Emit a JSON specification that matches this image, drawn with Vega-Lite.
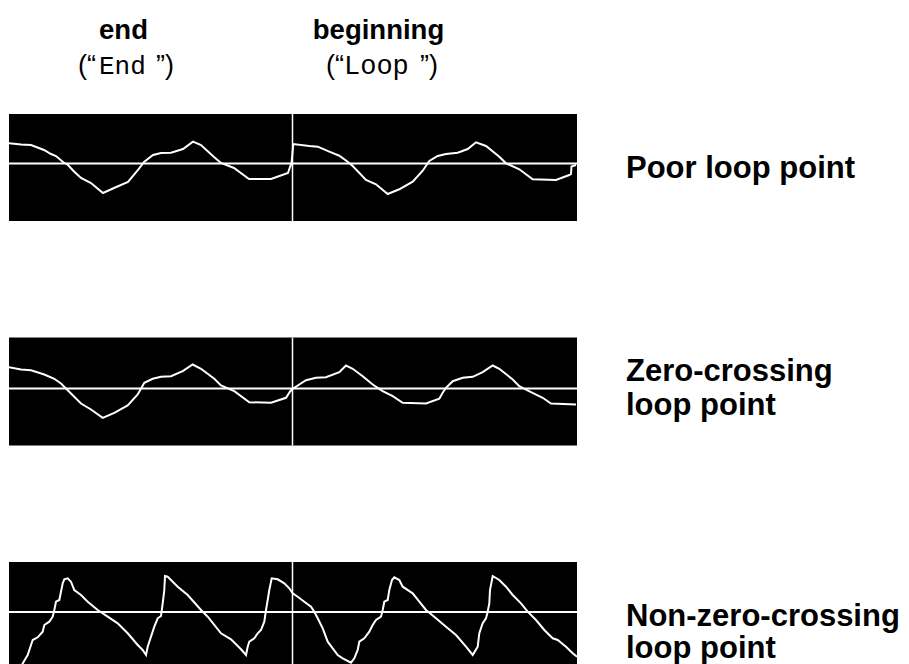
{
  "$schema": "https://vega.github.io/schema/vega-lite/v6.json",
  "background": "white",
  "padding": {"left": 8, "top": 0, "right": 0, "bottom": 0},
  "bounds": "flush",
  "spacing": 14,
  "config": {"view": {"stroke": null}, "axis": {"disable": true}},
  "datasets": {
    "wave": [
      {"panel": "poor", "t": 0, "v": 20.2}, {"panel": "poor", "t": 12, "v": 19}, {"panel": "poor", "t": 22, "v": 18.5}, {"panel": "poor", "t": 35, "v": 13.5}, {"panel": "poor", "t": 42, "v": 9.5}, {"panel": "poor", "t": 47, "v": 7.5}, {"panel": "poor", "t": 54, "v": 1.5}, {"panel": "poor", "t": 59, "v": -1.5}, {"panel": "poor", "t": 65, "v": -8}, {"panel": "poor", "t": 72, "v": -14.5}, {"panel": "poor", "t": 82, "v": -19.5}, {"panel": "poor", "t": 94, "v": -29.5}, {"panel": "poor", "t": 105, "v": -24.5}, {"panel": "poor", "t": 119, "v": -18.5}, {"panel": "poor", "t": 129, "v": -6.5}, {"panel": "poor", "t": 135, "v": 1.5}, {"panel": "poor", "t": 144, "v": 8.5}, {"panel": "poor", "t": 152, "v": 10.5}, {"panel": "poor", "t": 162, "v": 10.8}, {"panel": "poor", "t": 174, "v": 14.5}, {"panel": "poor", "t": 184, "v": 21.8}, {"panel": "poor", "t": 192, "v": 18.5}, {"panel": "poor", "t": 205, "v": 6.5}, {"panel": "poor", "t": 212, "v": 0.5}, {"panel": "poor", "t": 225, "v": -4.5}, {"panel": "poor", "t": 240, "v": -15.5}, {"panel": "poor", "t": 262, "v": -15.5}, {"panel": "poor", "t": 279, "v": -9.5}, {"panel": "poor", "t": 281, "v": -3.5}, {"panel": "poor", "t": 282.5, "v": 0},
      {"panel": "poor", "t": 284.3, "v": 19.5}, {"panel": "poor", "t": 300.3, "v": 17.5}, {"panel": "poor", "t": 308.7, "v": 16.8}, {"panel": "poor", "t": 320.3, "v": 11.8}, {"panel": "poor", "t": 330.3, "v": 7.8}, {"panel": "poor", "t": 338.7, "v": 1.8}, {"panel": "poor", "t": 343.7, "v": -2.5}, {"panel": "poor", "t": 357, "v": -16.5}, {"panel": "poor", "t": 367, "v": -20.8}, {"panel": "poor", "t": 378.7, "v": -30.5}, {"panel": "poor", "t": 390.3, "v": -25.8}, {"panel": "poor", "t": 403.7, "v": -18.2}, {"panel": "poor", "t": 413.7, "v": -7.2}, {"panel": "poor", "t": 420.3, "v": 2.5}, {"panel": "poor", "t": 428.7, "v": 7.5}, {"panel": "poor", "t": 437, "v": 9.5}, {"panel": "poor", "t": 448.7, "v": 10.8}, {"panel": "poor", "t": 458.7, "v": 14.5}, {"panel": "poor", "t": 467, "v": 21.2}, {"panel": "poor", "t": 477, "v": 17.5}, {"panel": "poor", "t": 490.3, "v": 6.8}, {"panel": "poor", "t": 497, "v": 0.2}, {"panel": "poor", "t": 510.3, "v": -5.8}, {"panel": "poor", "t": 523.7, "v": -15.8}, {"panel": "poor", "t": 547, "v": -16.5}, {"panel": "poor", "t": 560.3, "v": -11.5}, {"panel": "poor", "t": 562, "v": -10.5}, {"panel": "poor", "t": 562.5, "v": -3}, {"panel": "poor", "t": 567, "v": -1.5},

      {"panel": "zero", "t": 0, "v": 21.3}, {"panel": "zero", "t": 12, "v": 19}, {"panel": "zero", "t": 22, "v": 18.3}, {"panel": "zero", "t": 35.3, "v": 14}, {"panel": "zero", "t": 45.3, "v": 9.7}, {"panel": "zero", "t": 52, "v": 5}, {"panel": "zero", "t": 58.7, "v": -1.7}, {"panel": "zero", "t": 72, "v": -15}, {"panel": "zero", "t": 82, "v": -21}, {"panel": "zero", "t": 93.7, "v": -29.3}, {"panel": "zero", "t": 105.3, "v": -24.3}, {"panel": "zero", "t": 118.7, "v": -17}, {"panel": "zero", "t": 128.7, "v": -6}, {"panel": "zero", "t": 135.3, "v": 5.7}, {"panel": "zero", "t": 143.7, "v": 9.7}, {"panel": "zero", "t": 152, "v": 11.7}, {"panel": "zero", "t": 162, "v": 12.3}, {"panel": "zero", "t": 173.7, "v": 17.3}, {"panel": "zero", "t": 183.7, "v": 24}, {"panel": "zero", "t": 192, "v": 19.7}, {"panel": "zero", "t": 205.3, "v": 9.7}, {"panel": "zero", "t": 212, "v": 3}, {"panel": "zero", "t": 225.3, "v": -2.7}, {"panel": "zero", "t": 240.3, "v": -13.7}, {"panel": "zero", "t": 262, "v": -14.3}, {"panel": "zero", "t": 277, "v": -9.3}, {"panel": "zero", "t": 281.3, "v": -2.7}, {"panel": "zero", "t": 283.7, "v": -0.3},
      {"panel": "zero", "t": 290.3, "v": 4}, {"panel": "zero", "t": 297, "v": 8.3}, {"panel": "zero", "t": 307, "v": 10.7}, {"panel": "zero", "t": 317, "v": 11.3}, {"panel": "zero", "t": 330.3, "v": 16.3}, {"panel": "zero", "t": 337, "v": 23}, {"panel": "zero", "t": 343.7, "v": 19.7}, {"panel": "zero", "t": 353.7, "v": 12.3}, {"panel": "zero", "t": 363.7, "v": 4}, {"panel": "zero", "t": 373.7, "v": -2.7}, {"panel": "zero", "t": 383.7, "v": -7.7}, {"panel": "zero", "t": 393.7, "v": -14.3}, {"panel": "zero", "t": 417, "v": -15}, {"panel": "zero", "t": 430.3, "v": -10.3}, {"panel": "zero", "t": 433.7, "v": -4.3}, {"panel": "zero", "t": 437, "v": 0.7}, {"panel": "zero", "t": 443.7, "v": 7.3}, {"panel": "zero", "t": 453.7, "v": 10.7}, {"panel": "zero", "t": 463.7, "v": 11.7}, {"panel": "zero", "t": 473.7, "v": 16.3}, {"panel": "zero", "t": 483.7, "v": 23}, {"panel": "zero", "t": 490.3, "v": 19.7}, {"panel": "zero", "t": 503.7, "v": 9}, {"panel": "zero", "t": 510.3, "v": 2.3}, {"panel": "zero", "t": 522, "v": -3.7}, {"panel": "zero", "t": 533.7, "v": -9.3}, {"panel": "zero", "t": 542, "v": -15}, {"panel": "zero", "t": 567, "v": -16},

      {"panel": "nonzero", "t": 0, "v": -58}, {"panel": "nonzero", "t": 11, "v": -56}, {"panel": "nonzero", "t": 14.7, "v": -49.7}, {"panel": "nonzero", "t": 18.7, "v": -43}, {"panel": "nonzero", "t": 22, "v": -33}, {"panel": "nonzero", "t": 23.7, "v": -28}, {"panel": "nonzero", "t": 28.7, "v": -25.3}, {"panel": "nonzero", "t": 33.7, "v": -19.7}, {"panel": "nonzero", "t": 35.3, "v": -13}, {"panel": "nonzero", "t": 40.3, "v": -9.7}, {"panel": "nonzero", "t": 43.7, "v": -4.7}, {"panel": "nonzero", "t": 45.3, "v": 2}, {"panel": "nonzero", "t": 47, "v": 10.3}, {"panel": "nonzero", "t": 50.3, "v": 12}, {"panel": "nonzero", "t": 52, "v": 20.3}, {"panel": "nonzero", "t": 53.7, "v": 28.7}, {"panel": "nonzero", "t": 55.3, "v": 32.7}, {"panel": "nonzero", "t": 58.7, "v": 33.7}, {"panel": "nonzero", "t": 62, "v": 30.3}, {"panel": "nonzero", "t": 65.3, "v": 22}, {"panel": "nonzero", "t": 72, "v": 17}, {"panel": "nonzero", "t": 78.7, "v": 10.3}, {"panel": "nonzero", "t": 88.7, "v": 2}, {"panel": "nonzero", "t": 98.7, "v": -4.7}, {"panel": "nonzero", "t": 108.7, "v": -11.3}, {"panel": "nonzero", "t": 118.7, "v": -21.3}, {"panel": "nonzero", "t": 128.7, "v": -33}, {"panel": "nonzero", "t": 133.7, "v": -38}, {"panel": "nonzero", "t": 137, "v": -43}, {"panel": "nonzero", "t": 138.7, "v": -34.7}, {"panel": "nonzero", "t": 145.3, "v": -14.7}, {"panel": "nonzero", "t": 148.7, "v": -6.3}, {"panel": "nonzero", "t": 152, "v": -4}, {"panel": "nonzero", "t": 153.7, "v": 8.7}, {"panel": "nonzero", "t": 155.3, "v": 22}, {"panel": "nonzero", "t": 156, "v": 36}, {"panel": "nonzero", "t": 158.7, "v": 35.3}, {"panel": "nonzero", "t": 168.7, "v": 25.3}, {"panel": "nonzero", "t": 178.7, "v": 17}, {"panel": "nonzero", "t": 192, "v": 2}, {"panel": "nonzero", "t": 198.7, "v": -4.7}, {"panel": "nonzero", "t": 212, "v": -21.3}, {"panel": "nonzero", "t": 222, "v": -27.3}, {"panel": "nonzero", "t": 232, "v": -37.3}, {"panel": "nonzero", "t": 237, "v": -43}, {"panel": "nonzero", "t": 238.7, "v": -34.7}, {"panel": "nonzero", "t": 240.3, "v": -29.7}, {"panel": "nonzero", "t": 245.3, "v": -26.3}, {"panel": "nonzero", "t": 248.7, "v": -21.3}, {"panel": "nonzero", "t": 252, "v": -18}, {"panel": "nonzero", "t": 255.3, "v": -9.7}, {"panel": "nonzero", "t": 257, "v": 2}, {"panel": "nonzero", "t": 258.7, "v": 12}, {"panel": "nonzero", "t": 260.3, "v": 22}, {"panel": "nonzero", "t": 262.7, "v": 33.7}, {"panel": "nonzero", "t": 268.7, "v": 32.7}, {"panel": "nonzero", "t": 275.3, "v": 28.7}, {"panel": "nonzero", "t": 280.3, "v": 23.7}, {"panel": "nonzero", "t": 283.7, "v": 18.7},
      {"panel": "nonzero", "t": 288.7, "v": 15.3}, {"panel": "nonzero", "t": 295.3, "v": 10.3}, {"panel": "nonzero", "t": 302, "v": 5.3}, {"panel": "nonzero", "t": 305.3, "v": 0.3}, {"panel": "nonzero", "t": 308.7, "v": -6.3}, {"panel": "nonzero", "t": 313.7, "v": -16.3}, {"panel": "nonzero", "t": 318.7, "v": -29.7}, {"panel": "nonzero", "t": 323.7, "v": -36.3}, {"panel": "nonzero", "t": 328.7, "v": -43}, {"panel": "nonzero", "t": 333.7, "v": -46.3}, {"panel": "nonzero", "t": 342, "v": -50.7}, {"panel": "nonzero", "t": 345.3, "v": -46.3}, {"panel": "nonzero", "t": 348.7, "v": -38}, {"panel": "nonzero", "t": 350.3, "v": -29.7}, {"panel": "nonzero", "t": 355.3, "v": -26.3}, {"panel": "nonzero", "t": 360.3, "v": -19.7}, {"panel": "nonzero", "t": 363.7, "v": -13}, {"panel": "nonzero", "t": 367, "v": -8}, {"panel": "nonzero", "t": 372, "v": -4.7}, {"panel": "nonzero", "t": 373.7, "v": 2}, {"panel": "nonzero", "t": 375.3, "v": 10.3}, {"panel": "nonzero", "t": 378.7, "v": 12}, {"panel": "nonzero", "t": 380.3, "v": 22}, {"panel": "nonzero", "t": 383, "v": 32}, {"panel": "nonzero", "t": 385.3, "v": 34.7}, {"panel": "nonzero", "t": 390.3, "v": 32}, {"panel": "nonzero", "t": 393.7, "v": 25.3}, {"panel": "nonzero", "t": 403.7, "v": 18.7}, {"panel": "nonzero", "t": 410.3, "v": 10.3}, {"panel": "nonzero", "t": 417, "v": 2}, {"panel": "nonzero", "t": 427, "v": -6.3}, {"panel": "nonzero", "t": 437, "v": -14.7}, {"panel": "nonzero", "t": 447, "v": -23}, {"panel": "nonzero", "t": 457, "v": -34.7}, {"panel": "nonzero", "t": 463.7, "v": -43}, {"panel": "nonzero", "t": 468.7, "v": -34.7}, {"panel": "nonzero", "t": 470.3, "v": -21.3}, {"panel": "nonzero", "t": 473.7, "v": -11.3}, {"panel": "nonzero", "t": 477, "v": -6.3}, {"panel": "nonzero", "t": 478.7, "v": 0.3}, {"panel": "nonzero", "t": 480.3, "v": 8.7}, {"panel": "nonzero", "t": 481, "v": 22}, {"panel": "nonzero", "t": 483.7, "v": 36}, {"panel": "nonzero", "t": 490.3, "v": 32}, {"panel": "nonzero", "t": 497, "v": 25.3}, {"panel": "nonzero", "t": 503.7, "v": 17}, {"panel": "nonzero", "t": 512, "v": 8.7}, {"panel": "nonzero", "t": 518.7, "v": 0.3}, {"panel": "nonzero", "t": 527, "v": -8}, {"panel": "nonzero", "t": 535.3, "v": -18}, {"panel": "nonzero", "t": 543.7, "v": -26.3}, {"panel": "nonzero", "t": 548.7, "v": -28}, {"panel": "nonzero", "t": 557, "v": -34.7}, {"panel": "nonzero", "t": 563.7, "v": -41.3}, {"panel": "nonzero", "t": 568, "v": -44.7}
    ]
  },
  "vconcat": [
    {
      "width": 568,
      "height": 100,
      "data": {"values": [{}]},
      "layer": [
        {"mark": {"type": "text", "font": "Liberation Sans", "fontWeight": "bold", "fontSize": 27.5, "align": "center", "baseline": "alphabetic", "color": "black"},
         "encoding": {"x": {"datum": 114.5, "type": "quantitative", "scale": {"domain": [0, 568], "nice": false, "zero": false}}, "y": {"datum": 61, "type": "quantitative", "scale": {"domain": [0, 100], "nice": false, "zero": false}}, "text": {"value": "end"}}},
        {"mark": {"type": "text", "font": "Liberation Sans", "fontWeight": "bold", "fontSize": 27.5, "align": "center", "baseline": "alphabetic", "color": "black"},
         "encoding": {"x": {"datum": 369.5, "type": "quantitative"}, "y": {"datum": 61, "type": "quantitative"}, "text": {"value": "beginning"}}},
        {"mark": {"type": "text", "font": "Liberation Sans", "fontSize": 27, "align": "right", "baseline": "alphabetic", "color": "black"},
         "encoding": {"x": {"datum": 87, "type": "quantitative"}, "y": {"datum": 26, "type": "quantitative"}, "text": {"value": "(“"}}},
        {"mark": {"type": "text", "font": "Liberation Mono", "fontSize": 26, "align": "left", "baseline": "alphabetic", "color": "black"},
         "encoding": {"x": {"datum": 90, "type": "quantitative"}, "y": {"datum": 26, "type": "quantitative"}, "text": {"value": "End"}}},
        {"mark": {"type": "text", "font": "Liberation Sans", "fontSize": 27, "align": "right", "baseline": "alphabetic", "color": "black"},
         "encoding": {"x": {"datum": 165, "type": "quantitative"}, "y": {"datum": 26, "type": "quantitative"}, "text": {"value": "”)"}}},
        {"mark": {"type": "text", "font": "Liberation Sans", "fontSize": 27, "align": "right", "baseline": "alphabetic", "color": "black"},
         "encoding": {"x": {"datum": 335, "type": "quantitative"}, "y": {"datum": 26, "type": "quantitative"}, "text": {"value": "(“"}}},
        {"mark": {"type": "text", "font": "Liberation Mono", "fontSize": 27, "align": "left", "baseline": "alphabetic", "color": "black"},
         "encoding": {"x": {"datum": 335, "type": "quantitative"}, "y": {"datum": 26, "type": "quantitative"}, "text": {"value": "Loop"}}},
        {"mark": {"type": "text", "font": "Liberation Sans", "fontSize": 27, "align": "right", "baseline": "alphabetic", "color": "black"},
         "encoding": {"x": {"datum": 429, "type": "quantitative"}, "y": {"datum": 26, "type": "quantitative"}, "text": {"value": "”)"}}}
      ]
    },
    {
      "bounds": "flush",
      "spacing": 116.5,
      "vconcat": [
        {
          "width": 568,
          "height": 107,
          "view": {"fill": "black"},
          "data": {"name": "wave"},
          "transform": [{"filter": "datum.panel === 'poor'"}],
          "layer": [
            {"data": {"values": [{}]}, "mark": {"type": "rule", "color": "white", "strokeWidth": 2}, "encoding": {"y": {"datum": 0, "type": "quantitative", "scale": {"domain": [-57.5, 49.5], "nice": false, "zero": false}}}},
            {"data": {"values": [{}]}, "mark": {"type": "rule", "color": "white", "strokeWidth": 1.5}, "encoding": {"x": {"datum": 283.5, "type": "quantitative", "scale": {"domain": [0, 568], "nice": false, "zero": false}}}},
            {"mark": {"type": "line", "color": "white", "strokeWidth": 2, "clip": true}, "encoding": {"x": {"field": "t", "type": "quantitative", "scale": {"domain": [0, 568], "nice": false, "zero": false}}, "y": {"field": "v", "type": "quantitative", "scale": {"domain": [-57.5, 49.5], "nice": false, "zero": false}}}},
            {"data": {"values": [{}]}, "mark": {"type": "text", "font": "Liberation Sans", "fontWeight": "bold", "fontSize": 31, "align": "left", "baseline": "alphabetic", "color": "black"},
             "encoding": {"x": {"datum": 617, "type": "quantitative"}, "y": {"datum": -14, "type": "quantitative"}, "text": {"value": "Poor loop point"}}}
          ]
        },
        {
          "width": 568,
          "height": 108,
          "view": {"fill": "black"},
          "data": {"name": "wave"},
          "transform": [{"filter": "datum.panel === 'zero'"}],
          "layer": [
            {"data": {"values": [{}]}, "mark": {"type": "rule", "color": "white", "strokeWidth": 2}, "encoding": {"y": {"datum": 0, "type": "quantitative", "scale": {"domain": [-57, 51], "nice": false, "zero": false}}}},
            {"data": {"values": [{}]}, "mark": {"type": "rule", "color": "white", "strokeWidth": 1.5}, "encoding": {"x": {"datum": 283.5, "type": "quantitative", "scale": {"domain": [0, 568], "nice": false, "zero": false}}}},
            {"mark": {"type": "line", "color": "white", "strokeWidth": 2, "clip": true}, "encoding": {"x": {"field": "t", "type": "quantitative", "scale": {"domain": [0, 568], "nice": false, "zero": false}}, "y": {"field": "v", "type": "quantitative", "scale": {"domain": [-57, 51], "nice": false, "zero": false}}}},
            {"data": {"values": [{}]}, "mark": {"type": "text", "font": "Liberation Sans", "fontWeight": "bold", "fontSize": 31, "align": "left", "baseline": "alphabetic", "color": "black", "lineHeight": 34},
             "encoding": {"x": {"datum": 617, "type": "quantitative"}, "y": {"datum": 8, "type": "quantitative"}, "text": {"value": ["Zero-crossing", "loop point"]}}}
          ]
        },
        {
          "width": 568,
          "height": 110,
          "view": {"fill": "black"},
          "data": {"name": "wave"},
          "transform": [{"filter": "datum.panel === 'nonzero'"}],
          "layer": [
            {"data": {"values": [{}]}, "mark": {"type": "rule", "color": "white", "strokeWidth": 2}, "encoding": {"y": {"datum": 0, "type": "quantitative", "scale": {"domain": [-60, 50], "nice": false, "zero": false}}}},
            {"data": {"values": [{}]}, "mark": {"type": "rule", "color": "white", "strokeWidth": 1.5}, "encoding": {"x": {"datum": 283.5, "type": "quantitative", "scale": {"domain": [0, 568], "nice": false, "zero": false}}}},
            {"mark": {"type": "line", "color": "white", "strokeWidth": 2, "clip": true}, "encoding": {"x": {"field": "t", "type": "quantitative", "scale": {"domain": [0, 568], "nice": false, "zero": false}}, "y": {"field": "v", "type": "quantitative", "scale": {"domain": [-60, 50], "nice": false, "zero": false}}}},
            {"data": {"values": [{}]}, "mark": {"type": "text", "font": "Liberation Sans", "fontWeight": "bold", "fontSize": 31, "align": "left", "baseline": "alphabetic", "color": "black", "lineHeight": 32},
             "encoding": {"x": {"datum": 617, "type": "quantitative"}, "y": {"datum": -14, "type": "quantitative"}, "text": {"value": ["Non-zero-crossing", "loop point"]}}}
          ]
        }
      ]
    }
  ]
}
